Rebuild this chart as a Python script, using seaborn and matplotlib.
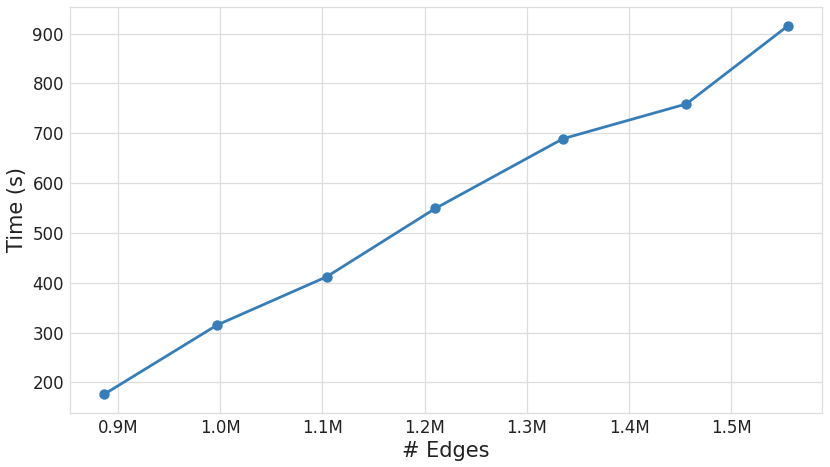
import matplotlib
matplotlib.use("Agg")
import matplotlib.pyplot as plt
import seaborn as sns
import pandas as pd
from matplotlib.ticker import FuncFormatter, FixedLocator

edges = [886700, 997100, 1104300, 1210400, 1335200, 1456000, 1555400]
times = [176, 315, 412, 549, 689, 759, 916]
xticks = [900000, 1000000, 1100000, 1200000, 1300000, 1400000, 1500000]

df = pd.DataFrame({"edges": edges, "time": times})

sns.set_theme(style="whitegrid")
plt.rcParams['font.family'] = ['DejaVu Sans']

fig = plt.figure(figsize=(8.3, 4.67), dpi=100)
ax = fig.add_axes([0.0843, 0.1163, 0.9064, 0.8681])
sns.lineplot(data=df, x="edges", y="time", ax=ax, color="#377eb8",
             linewidth=2.0, marker="o", markersize=7.5, markeredgewidth=0)

ax.xaxis.set_major_locator(FixedLocator(xticks))
ax.xaxis.set_major_formatter(FuncFormatter(lambda v, p: f"{v/1e6:.1f}M"))
ax.tick_params(axis="both", labelsize=12, colors="#222222", length=0, pad=4.3)
ax.set_xlabel("# Edges", fontsize=15, color="#222222", labelpad=3)
ax.set_ylabel("Time (s)", fontsize=15, color="#222222", labelpad=4)
ax.grid(True, color="#dddddd", linewidth=0.9)
for s in ax.spines.values():
    s.set_color("#dddddd")
    s.set_linewidth(0.9)

fig.savefig("out.png", dpi=100)
